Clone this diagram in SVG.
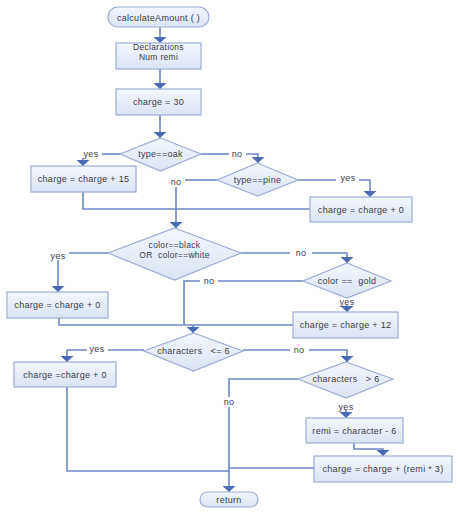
<svg xmlns="http://www.w3.org/2000/svg" width="460" height="515" viewBox="0 0 460 515">
<defs>
<linearGradient id="g" x1="0" y1="0" x2="0" y2="1">
<stop offset="0" stop-color="#f3f6fc"/>
<stop offset="1" stop-color="#dbe4f4"/>
</linearGradient>
<marker id="ah" markerUnits="userSpaceOnUse" markerWidth="6" markerHeight="13" refX="6" refY="6.5" orient="auto">
<path d="M0,0 L6,6.5 L0,13 z" fill="#4a6bb3"/>
</marker>
<style>
.n{fill:url(#g);stroke:#9aadd6;stroke-width:1.2}
.c{fill:none;stroke:#6f88c4;stroke-width:1.6}
.a{marker-end:url(#ah)}
text{font-family:"Liberation Sans",Arial,sans-serif;font-size:9px;fill:#3c3c48;text-anchor:middle;letter-spacing:0.3px;white-space:pre}
.s{font-size:8.5px}
</style>
</defs>
<rect width="460" height="515" fill="#ffffff"/>
<g id="connectors">
<path class="c a" d="M160,27 V43"/>
<path class="c a" d="M160,69 V89"/>
<path class="c a" d="M160,115 V138"/>
<path class="c" d="M120,154 H102"/>
<path class="c a" d="M83,158 V166"/>
<path class="c" d="M201,154 H229"/>
<path class="c a" d="M246,154 H258 V163"/>
<path class="c" d="M217,180 H185"/>
<path class="c a" d="M176,187 V228"/>
<path class="c" d="M298,180 H336"/>
<path class="c a" d="M359,180 H370 V197"/>
<path class="c" d="M83,192 V209 H310"/>
<path class="c" d="M108,253 H69"/>
<path class="c a" d="M58,260 V292"/>
<path class="c" d="M241,253 H290"/>
<path class="c a" d="M312,253 H347 V263"/>
<path class="c" d="M303,281 H218"/>
<path class="c" d="M200,281 H184 V325"/>
<path class="c a" d="M347,305 V312"/>
<path class="c" d="M59,318 V325 H293"/>
<path class="c a" d="M193,325 V333"/>
<path class="c" d="M144,350 H108"/>
<path class="c a" d="M87,350 H67 V362"/>
<path class="c" d="M243,350 H290"/>
<path class="c a" d="M309,350 H347 V362"/>
<path class="c" d="M298,379 H229 V397"/>
<path class="c a" d="M229,407 V492"/>
<path class="c a" d="M346,410 V418"/>
<path class="c a" d="M354,443 V449 H383 V456"/>
<path class="c" d="M314,468 H229"/>
<path class="c" d="M67,387 V471 H229"/>
</g>
<g id="labels">
<text x="91" y="157">yes</text>
<text x="237" y="157">no</text>
<text x="176" y="185">no</text>
<text x="348" y="181">yes</text>
<text x="58" y="259">yes</text>
<text x="301" y="256">no</text>
<text x="209" y="284">no</text>
<text x="347" y="305">yes</text>
<text x="97" y="352">yes</text>
<text x="299" y="353">no</text>
<text x="229" y="405">no</text>
<text x="346" y="410">yes</text>
</g>
<g id="start"><rect class="n" x="108" y="7" width="101" height="20" rx="10"/><text x="158.5" y="20.5">calculateAmount ( )</text></g>
<g id="decl"><rect class="n" x="116" y="43" width="85" height="26"/><text class="s" x="158.5" y="49.5">Declarations</text><text class="s" x="158.5" y="59.5">Num remi</text></g>
<g id="charge30"><rect class="n" x="116" y="89" width="85" height="26"/><text x="158.5" y="104.5">charge = 30</text></g>
<g id="oak"><polygon class="n" points="160.5,138 201,154 160.5,171 120,154"/><text x="160.5" y="157">type==oak</text></g>
<g id="plus15"><rect class="n" x="31" y="166" width="105" height="26"/><text x="83.5" y="182">charge = charge + 15</text></g>
<g id="pine"><polygon class="n" points="257.5,163 298,180 257.5,196 217,180"/><text x="257.5" y="183">type==pine</text></g>
<g id="plus0a"><rect class="n" x="310" y="197" width="102" height="25"/><text x="361" y="212.5">charge = charge + 0</text></g>
<g id="color"><polygon class="n" points="174.5,228 241,253 174.5,280 108,253"/><text class="s" x="174.5" y="248">color==black</text><text class="s" x="174.5" y="258">OR  color==white</text></g>
<g id="plus0b"><rect class="n" x="7" y="292" width="101" height="26"/><text x="57.5" y="308">charge = charge + 0</text></g>
<g id="gold"><polygon class="n" points="347,263 391,281 347,298 303,281"/><text x="347" y="284">color ==  gold</text></g>
<g id="plus12"><rect class="n" x="293" y="312" width="105" height="26"/><text x="345.5" y="328">charge = charge + 12</text></g>
<g id="le6"><polygon class="n" points="193.5,333 243,351 193.5,371 144,351"/><text x="193.5" y="354">characters   &lt;= 6</text></g>
<g id="plus0c"><rect class="n" x="14" y="362" width="102" height="25"/><text x="65" y="377.5">charge =charge + 0</text></g>
<g id="gt6"><polygon class="n" points="346,362 393,379 346,398 298,379"/><text x="346" y="382">characters   &gt; 6</text></g>
<g id="remi"><rect class="n" x="306" y="418" width="97" height="25"/><text x="354.5" y="433.5">remi = character - 6</text></g>
<g id="plusremi"><rect class="n" x="314" y="456" width="138" height="26"/><text x="383" y="472">charge = charge + (remi * 3)</text></g>
<g id="return"><rect class="n" x="200" y="492" width="58" height="15" rx="7.5"/><text x="229" y="502.5">return</text></g>
</svg>
